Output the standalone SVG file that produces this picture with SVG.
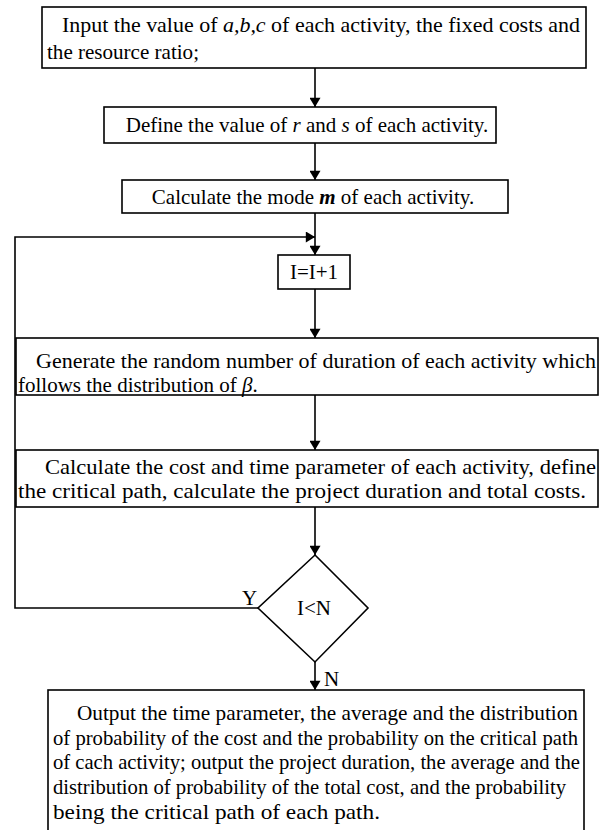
<svg xmlns="http://www.w3.org/2000/svg" width="607" height="830" viewBox="0 0 607 830">
<defs>
<marker id="ah" viewBox="0 0 10 12" refX="10" refY="6" markerWidth="13" markerHeight="11" markerUnits="userSpaceOnUse" orient="auto">
<path d="M0,0 L10,6 L0,12 z" fill="#000"/>
</marker>
<style>
.box{fill:#fff;stroke:#000;stroke-width:1.6}
.t{font-family:"Liberation Serif","Times New Roman",serif;font-size:21px;fill:#000}
.c{text-anchor:middle}
.e{stroke:#000;stroke-width:1.6;fill:none}
.i{font-style:italic}
</style>
</defs>
<rect width="607" height="830" fill="#fff"/>
<g id="connectors">
<line class="e" x1="315" y1="68" x2="315" y2="107" marker-end="url(#ah)"/>
<line class="e" x1="315" y1="143" x2="315" y2="180" marker-end="url(#ah)"/>
<line class="e" x1="315" y1="213" x2="315" y2="255" marker-end="url(#ah)"/>
<polyline class="e" points="258,608 15,608 15,237 315,237" marker-end="url(#ah)"/>
<line class="e" x1="315" y1="289" x2="315" y2="338" marker-end="url(#ah)"/>
<line class="e" x1="315" y1="395" x2="315" y2="450" marker-end="url(#ah)"/>
<line class="e" x1="315" y1="507" x2="315" y2="555" marker-end="url(#ah)"/>
<line class="e" x1="315" y1="662" x2="315" y2="690" marker-end="url(#ah)"/>
<text class="t" x="242" y="605">Y</text>
<text class="t" x="324" y="686">N</text>
</g>
<g id="n1">
<rect class="box" x="42" y="7" width="544" height="61"/>
<text class="t" x="62" y="32" textLength="518" lengthAdjust="spacingAndGlyphs">Input the value of <tspan class="i">a,b,c</tspan> of each activity, the fixed costs and</text>
<text class="t" x="47" y="59" textLength="152" lengthAdjust="spacingAndGlyphs">the resource ratio;</text>
</g>
<g id="n2">
<rect class="box" x="104" y="107" width="392" height="36"/>
<text class="t c" x="307" y="132" font-size="19">Define the value of <tspan class="i">r</tspan> and <tspan class="i">s</tspan> of each activity.</text>
</g>
<g id="n3">
<rect class="box" x="122" y="180" width="386" height="33"/>
<text class="t c" x="313" y="204">Calculate the mode <tspan class="i" font-weight="bold">m</tspan> of each activity.</text>
</g>
<g id="n4">
<rect class="box" x="278" y="255" width="72" height="34"/>
<text class="t c" x="314" y="279">I=I+1</text>
</g>
<g id="n5">
<rect class="box" x="16" y="338" width="582" height="57"/>
<text class="t" x="36" y="368" textLength="560" lengthAdjust="spacingAndGlyphs">Generate the random number of duration of each activity which</text>
<text class="t" x="18" y="392">follows the distribution of <tspan class="i">β</tspan>.</text>
</g>
<g id="n6">
<rect class="box" x="16" y="450" width="582" height="57"/>
<text class="t" x="45" y="474" textLength="551" lengthAdjust="spacingAndGlyphs">Calculate the cost and time parameter of each activity, define</text>
<text class="t" x="18" y="498" textLength="568" lengthAdjust="spacingAndGlyphs">the critical path, calculate the project duration and total costs.</text>
</g>
<g id="n7">
<polygon class="box" points="315,555 368,608 315,662 258,608"/>
<text class="t c" x="314" y="615">I&lt;N</text>
</g>
<g id="n8">
<rect class="box" x="48" y="690" width="536" height="145"/>
<text class="t" x="77" y="720" textLength="501" lengthAdjust="spacingAndGlyphs">Output the time parameter, the average and the distribution</text>
<text class="t" x="53" y="745" textLength="525" lengthAdjust="spacingAndGlyphs">of probability of the cost and the probability on the critical path</text>
<text class="t" x="53" y="769" textLength="527" lengthAdjust="spacingAndGlyphs">of cach activity; output the project duration, the average and the</text>
<text class="t" x="53" y="794" textLength="513" lengthAdjust="spacingAndGlyphs">distribution of probability of the total cost, and the probability</text>
<text class="t" x="53" y="819" textLength="327" lengthAdjust="spacingAndGlyphs">being the critical path of each path.</text>
</g>
</svg>
